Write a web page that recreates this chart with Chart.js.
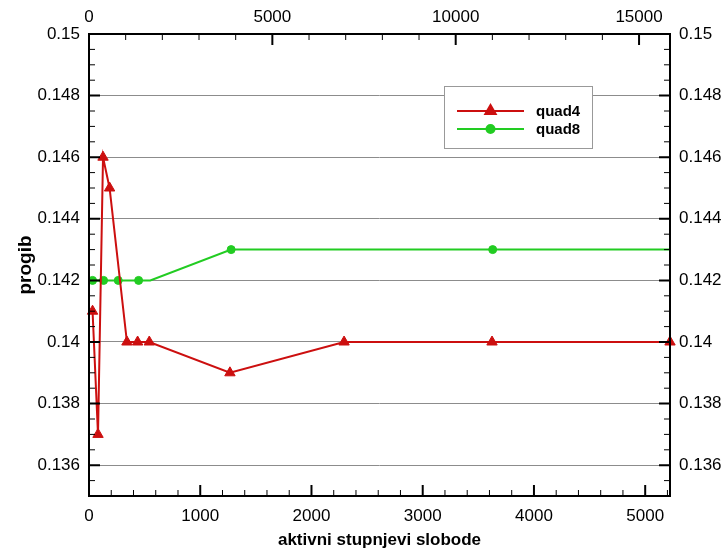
<!DOCTYPE html>
<html lang="hr">
<head>
    <meta charset="UTF-8">
    <title>progib</title>
    <script src="https://cdn.jsdelivr.net/npm/chart.js"></script>
    <style>
        body { margin: 0; background: #fff; }
        .chart-box { width: 727px; height: 551px; }
    </style>
</head>
<body>
    <div class="chart-box">
        <canvas id="myChart"></canvas>
    </div>

    <script>
        // values
        const quad4Dof = [32, 81, 126, 185, 341, 437, 542, 1267, 2293, 3623, 5223];
        const quad4Progib = [0.141, 0.137, 0.146, 0.145, 0.140, 0.140, 0.140, 0.139, 0.140, 0.140, 0.140];
        const quad8Dof = [32, 131, 263, 446, 551, 1278, 3629, 5223];
        const quad8Progib = [0.142, 0.142, 0.142, 0.142, 0.142, 0.143, 0.143, 0.143];

        const bottomTicks = [0, 1000, 2000, 3000, 4000, 5000];
        const topTicks = [0, 5000, 10000, 15000];
        const yTicks = [0.136, 0.138, 0.14, 0.142, 0.144, 0.146, 0.148, 0.15];
        const xMax = 5223;
        const topMax = 15844;
        const yMin = 0.135;
        const yMax = 0.15;

        const RED = '#cc0f0f';
        const GREEN = '#22cc22';

        Chart.defaults.font.family = 'Arial, "Liberation Sans", sans-serif';
        Chart.defaults.font.size = 17;
        Chart.defaults.color = '#000';

        const toPoints = (xs, ys) => xs.map((x, i) => ({ x: x, y: ys[i] }));
        const fixedTicks = arr => scale => { scale.ticks = arr.map(v => ({ value: v })); };
        const plainNum = v => String(+v.toFixed(3));

        // inward major/minor ticks and frame, like the original plot
        const framePlugin = {
            id: 'frame',
            afterDraw(chart) {
                const { ctx, chartArea: a, scales } = chart;
                ctx.save();
                ctx.strokeStyle = '#000';
                ctx.lineWidth = 2;
                ctx.strokeRect(a.left, a.top, a.right - a.left, a.bottom - a.top);

                const tickX = (scale, v, len, top) => {
                    const px = scale.getPixelForValue(v);
                    ctx.beginPath();
                    if (top) { ctx.moveTo(px, a.top); ctx.lineTo(px, a.top + len); }
                    else { ctx.moveTo(px, a.bottom); ctx.lineTo(px, a.bottom - len); }
                    ctx.stroke();
                };
                const tickY = (v, len) => {
                    const py = scales.y.getPixelForValue(v);
                    ctx.beginPath();
                    ctx.moveTo(a.left, py); ctx.lineTo(a.left + len, py);
                    ctx.moveTo(a.right, py); ctx.lineTo(a.right - len, py);
                    ctx.stroke();
                };

                ctx.lineWidth = 1;
                for (let v = 0; v <= xMax; v += 200) if (v % 1000) tickX(scales.x, v, 6, false);
                for (let v = 0; v <= topMax; v += 1000) if (v % 5000) tickX(scales.x2, v, 6, true);
                for (let i = 1; i < 30; i++) if (i % 4 !== 2) tickY(yMin + i * 0.0005, 6);

                ctx.lineWidth = 2;
                bottomTicks.forEach(v => tickX(scales.x, v, 11, false));
                topTicks.forEach(v => tickX(scales.x2, v, 11, true));
                yTicks.forEach(v => tickY(v, 11));
                ctx.restore();
            }
        };

        // legend box inside the plot
        const legendPlugin = {
            id: 'boxLegend',
            afterDraw(chart) {
                const ctx = chart.ctx;
                ctx.save();
                ctx.fillStyle = '#fff';
                ctx.strokeStyle = '#999';
                ctx.lineWidth = 1;
                ctx.fillRect(444, 86, 148, 62);
                ctx.strokeRect(444.5, 86.5, 148, 62);
                const rows = [[0, 111], [1, 129]];
                rows.forEach(([i, y]) => {
                    const ds = chart.data.datasets[i];
                    ctx.strokeStyle = ds.borderColor;
                    ctx.lineWidth = 2;
                    ctx.beginPath();
                    ctx.moveTo(457, y); ctx.lineTo(524, y);
                    ctx.stroke();
                    ctx.fillStyle = ds.backgroundColor;
                    Chart.helpers.drawPoint(ctx, {
                        pointStyle: ds.pointStyle, radius: ds.legendRadius,
                        rotation: 0, borderWidth: 1
                    }, 490.5, y);
                    ctx.fillStyle = '#000';
                    ctx.font = 'bold 15px Arial, "Liberation Sans", sans-serif';
                    ctx.textBaseline = 'middle';
                    ctx.fillText(ds.label, 536, y + 1);
                });
                ctx.restore();
            }
        };

        const ctx = document.getElementById('myChart').getContext('2d');
        new Chart(ctx, {
            type: 'scatter',
            data: {
                datasets: [{
                    label: 'quad4',
                    data: toPoints(quad4Dof, quad4Progib),
                    showLine: true,
                    borderColor: RED,
                    backgroundColor: RED,
                    borderWidth: 2,
                    pointStyle: 'triangle',
                    pointRadius: 6,
                    legendRadius: 6,
                    pointBorderWidth: 1,
                    clip: false,
                    xAxisID: 'x', yAxisID: 'y'
                }, {
                    label: 'quad8',
                    data: toPoints(quad8Dof, quad8Progib),
                    showLine: true,
                    borderColor: GREEN,
                    backgroundColor: GREEN,
                    borderWidth: 2,
                    pointStyle: 'circle',
                    pointRadius: [4, 4, 4, 4, 0, 4, 4, 0],
                    legendRadius: 4,
                    pointBorderWidth: 1,
                    clip: false,
                    xAxisID: 'x', yAxisID: 'y'
                }]
            },
            options: {
                responsive: true,
                maintainAspectRatio: false,
                animation: false,
                layout: { padding: 0 },
                plugins: {
                    legend: { display: false },
                    tooltip: { enabled: false }
                },
                scales: {
                    x: {
                        type: 'linear', position: 'bottom',
                        min: 0, max: xMax,
                        afterBuildTicks: fixedTicks(bottomTicks),
                        afterFit: s => { s.height = 55; },
                        grid: { display: false, drawTicks: false },
                        border: { display: false },
                        ticks: { padding: 10, maxRotation: 0, callback: plainNum },
                        title: {
                            display: true,
                            text: 'aktivni stupnjevi slobode',
                            font: { size: 17, weight: 'bold' },
                            padding: { top: 0, bottom: 0 }
                        }
                    },
                    x2: {
                        type: 'linear', position: 'top',
                        min: 0, max: topMax,
                        afterBuildTicks: fixedTicks(topTicks),
                        afterFit: s => { s.height = 34; },
                        grid: { display: false, drawTicks: false },
                        border: { display: false },
                        ticks: { padding: 6, maxRotation: 0, callback: plainNum }
                    },
                    y: {
                        type: 'linear', position: 'left',
                        min: yMin, max: yMax,
                        afterBuildTicks: fixedTicks(yTicks),
                        afterFit: s => { s.width = 89; },
                        grid: { color: '#8c8c8c', lineWidth: 1, drawTicks: false },
                        border: { display: false },
                        ticks: { padding: 9, callback: plainNum },
                        title: {
                            display: true,
                            text: 'progib',
                            font: { size: 19, weight: 'bold' },
                            padding: { top: 14, bottom: 0 }
                        }
                    },
                    y2: {
                        type: 'linear', position: 'right',
                        min: yMin, max: yMax,
                        afterBuildTicks: fixedTicks(yTicks),
                        afterFit: s => { s.width = 57; },
                        grid: { display: false, drawTicks: false },
                        border: { display: false },
                        ticks: { padding: 9, callback: plainNum }
                    }
                }
            },
            plugins: [framePlugin, legendPlugin]
        });
    </script>
</body>
</html>
